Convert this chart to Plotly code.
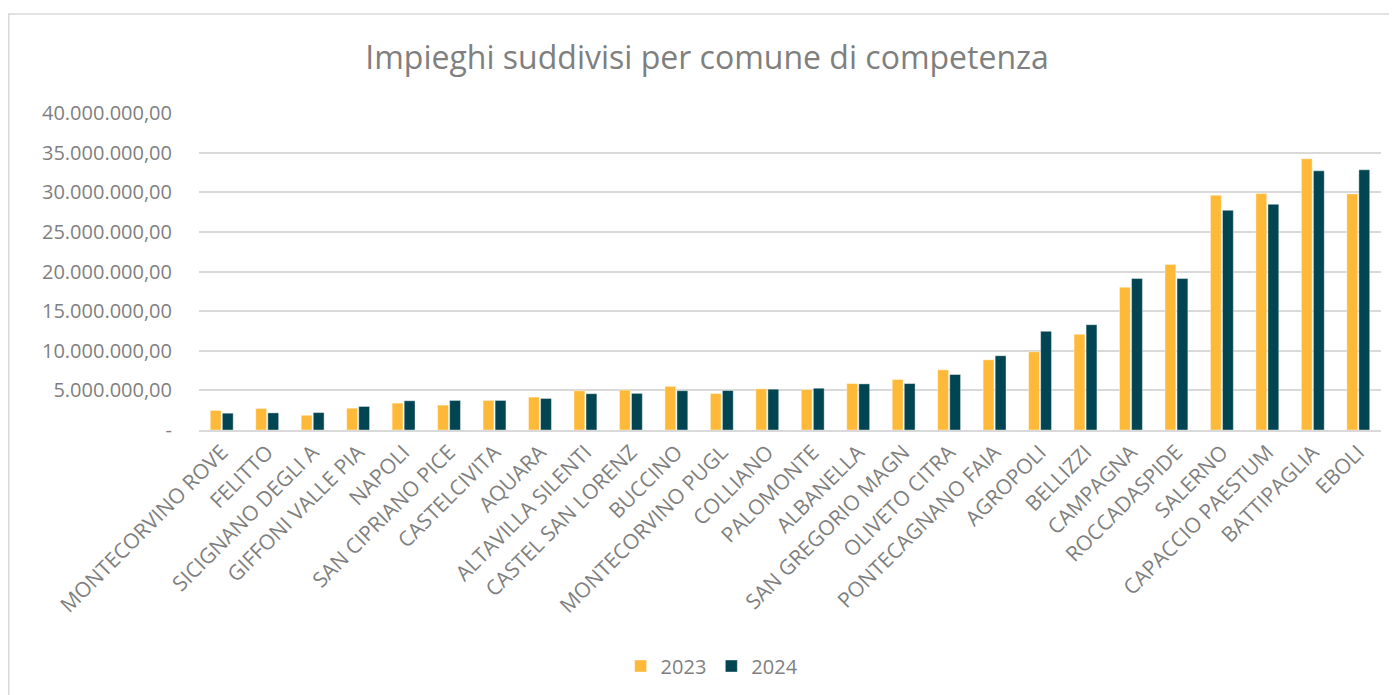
import plotly.graph_objects as go

comuni = [
    "MONTECORVINO ROVE", "FELITTO", "SICIGNANO DEGLI A", "GIFFONI VALLE PIA", "NAPOLI",
    "SAN CIPRIANO PICE", "CASTELCIVITA", "AQUARA", "ALTAVILLA SILENTI", "CASTEL SAN LORENZ",
    "BUCCINO", "MONTECORVINO PUGL", "COLLIANO", "PALOMONTE", "ALBANELLA",
    "SAN GREGORIO MAGN", "OLIVETO CITRA", "PONTECAGNANO FAIA", "AGROPOLI", "BELLIZZI",
    "CAMPAGNA", "ROCCADASPIDE", "SALERNO", "CAPACCIO PAESTUM", "BATTIPAGLIA", "EBOLI",
]

val_2023 = [
    2460000, 2710000, 1860000, 2750000, 3390000,
    3140000, 3730000, 4150000, 4960000, 5040000,
    5510000, 4600000, 5190000, 5100000, 5860000,
    6370000, 7590000, 8860000, 9870000, 12070000,
    18020000, 20890000, 29620000, 29830000, 34220000, 29790000,
]

val_2024 = [
    2120000, 2160000, 2200000, 2970000, 3690000,
    3730000, 3730000, 3980000, 4580000, 4620000,
    4960000, 4980000, 5150000, 5270000, 5820000,
    5860000, 7000000, 9370000, 12450000, 13290000,
    19110000, 19110000, 27720000, 28480000, 32700000, 32830000,
]

tick_vals = [0, 5000000, 10000000, 15000000, 20000000, 25000000, 30000000, 35000000, 40000000]
tick_text = ["-", "5.000.000,00", "10.000.000,00", "15.000.000,00", "20.000.000,00",
             "25.000.000,00", "30.000.000,00", "35.000.000,00", "40.000.000,00"]

FONT = "Open Sans"
GRAY = "#7F7F7F"

W, H = 1397, 695
L, R, T, B = 191, 24, 105, 273
PW, PH = W - L - R, H - T - B

fig = go.Figure()
fig.add_trace(go.Bar(
    x=comuni, y=val_2023, name="2023",
    marker=dict(color="#FFB938", line=dict(color="rgba(255,255,255,0.5)", width=0.8)),
))
fig.add_trace(go.Bar(
    x=comuni, y=val_2024, name="2024",
    marker=dict(color="#024552", line=dict(color="rgba(255,255,255,0.5)", width=0.8)),
))

fig.update_layout(
    width=W, height=H,
    margin=dict(l=L, r=R, t=T, b=B),
    paper_bgcolor="white", plot_bgcolor="white",
    barmode="group", bargap=0.47, bargroupgap=0.1,
    font=dict(family=FONT, color=GRAY),
    title=dict(
        text="Impieghi suddivisi per comune di competenza",
        x=0.5004, xref="container", xanchor="center",
        y=1 - 50 / H, yref="container", yanchor="middle",
        font=dict(family=FONT, size=32, color="#7F7F7F"),
    ),
    legend=dict(
        orientation="h", x=0.504, xref="container", xanchor="center",
        y=1 - 658 / H, yref="container", yanchor="middle",
        font=dict(family=FONT, size=20, color=GRAY),
        itemwidth=30, traceorder="normal",
    ),
    showlegend=True,
    shapes=[dict(
        type="rect", xref="paper", yref="paper",
        x0=(0.75 - L) / PW, x1=(W + 30 - L) / PW,
        y0=(PH + T - (H + 30)) / PH, y1=(PH + T - 6) / PH,
        line=dict(color="#D9D9D9", width=1.5), fillcolor="rgba(0,0,0,0)", layer="below",
    )],
)

fig.update_xaxes(
    tickangle=-45, tickfont=dict(family=FONT, size=21, color=GRAY),
    showgrid=False, showline=True, linecolor="#D9D9D9", linewidth=1.5,
    ticks="", automargin=False,
)
fig.update_yaxes(
    range=[0, 40000000], tickvals=tick_vals, ticktext=tick_text,
    tickfont=dict(family=FONT, size=20, color=GRAY),
    showgrid=True, gridcolor="#D9D9D9", gridwidth=1.5,
    zeroline=False, showline=False, ticks="",
    ticklabelstandoff=26, automargin=False,
)

fig.write_html("out.html")
